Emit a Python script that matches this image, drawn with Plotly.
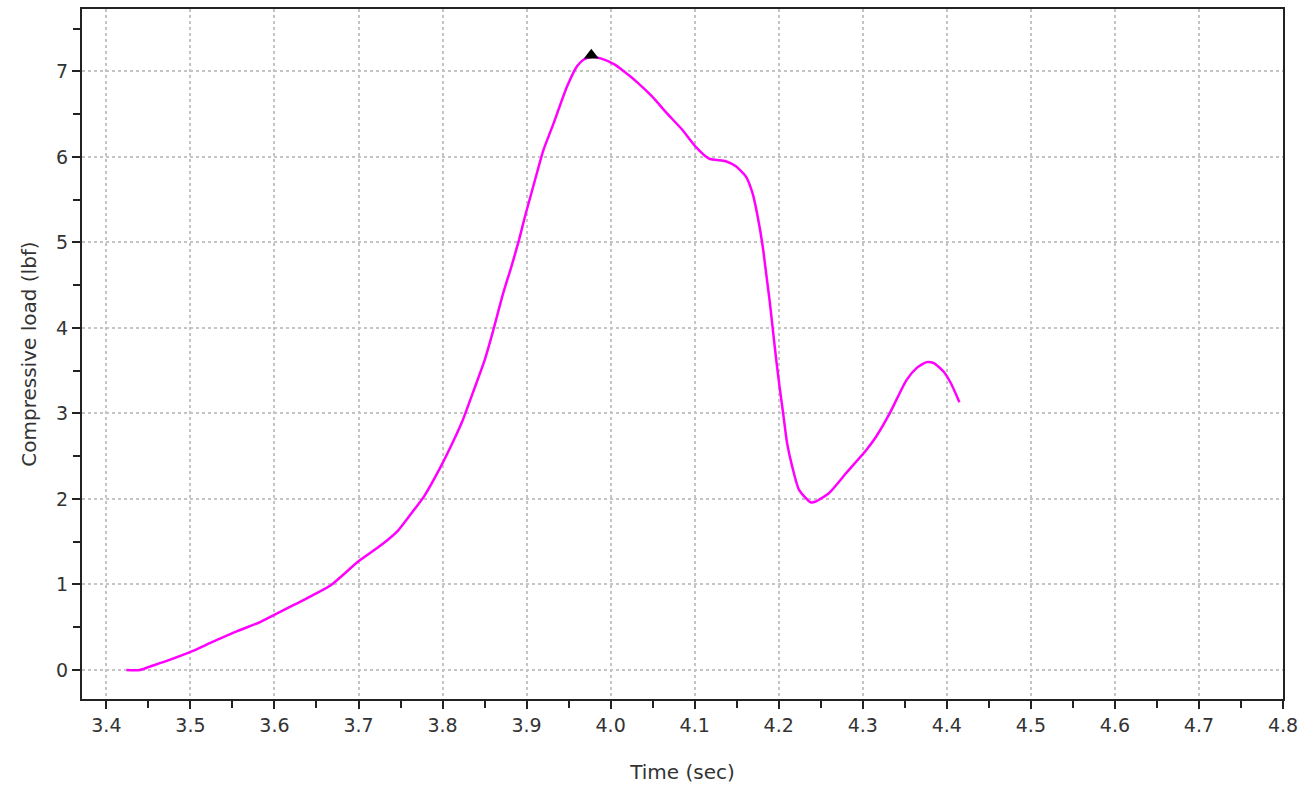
import plotly.graph_objects as go

time_s = [3.424, 3.44, 3.452, 3.476, 3.50, 3.527, 3.555, 3.583, 3.591, 3.623, 3.643, 3.667,
          3.70, 3.727, 3.747, 3.762, 3.778, 3.798, 3.814, 3.824, 3.836, 3.850, 3.860, 3.872,
          3.882, 3.891, 3.898, 3.910, 3.920, 3.932, 3.948, 3.960, 3.968, 3.977, 3.989, 4.005,
          4.021, 4.033, 4.049, 4.067, 4.085, 4.101, 4.117, 4.137, 4.149, 4.161, 4.169, 4.175,
          4.181, 4.185, 4.189, 4.193, 4.197, 4.201, 4.205, 4.210, 4.216, 4.224, 4.238, 4.244,
          4.260, 4.280, 4.304, 4.316, 4.332, 4.352, 4.364, 4.376, 4.384, 4.396, 4.405, 4.415]
load_lbf = [0.0, 0.0, 0.04, 0.12, 0.21, 0.33, 0.45, 0.56, 0.60, 0.76, 0.86, 0.99,
            1.27, 1.46, 1.63, 1.82, 2.03, 2.38, 2.70, 2.92, 3.24, 3.62, 3.96, 4.40,
            4.72, 5.03, 5.30, 5.73, 6.08, 6.39, 6.82, 7.06, 7.14, 7.17, 7.15, 7.08,
            6.96, 6.86, 6.71, 6.51, 6.32, 6.12, 5.98, 5.95, 5.89, 5.77, 5.57, 5.30,
            4.95, 4.64, 4.33, 3.98, 3.63, 3.31, 3.02, 2.65, 2.38, 2.11, 1.96, 1.97,
            2.07, 2.30, 2.57, 2.73, 3.00, 3.39, 3.53, 3.60, 3.59, 3.49, 3.35, 3.13]
peak_time = [3.977]
peak_load = [7.19]

x_ticks = [3.4, 3.5, 3.6, 3.7, 3.8, 3.9, 4.0, 4.1, 4.2, 4.3, 4.4, 4.5, 4.6, 4.7, 4.8]
x_tick_labels = ["3.4", "3.5", "3.6", "3.7", "3.8", "3.9", "4.0", "4.1", "4.2", "4.3",
                 "4.4", "4.5", "4.6", "4.7", "4.8"]
y_ticks = [0, 1, 2, 3, 4, 5, 6, 7]

fig = go.Figure()
fig.add_trace(go.Scatter(x=time_s, y=load_lbf, mode="lines",
                         line=dict(color="#ff00ff", width=2.5, shape="spline", smoothing=0.6),
                         hoverinfo="x+y", showlegend=False))
fig.add_trace(go.Scatter(x=peak_time, y=peak_load, mode="markers",
                         marker=dict(symbol="triangle-up", size=13, color="black"),
                         showlegend=False))

font_family = "DejaVu Sans, Verdana, sans-serif"
fig.update_layout(
    width=1301, height=789,
    margin=dict(l=82, r=18, t=9, b=90, autoexpand=False),
    plot_bgcolor="white", paper_bgcolor="white",
    font=dict(family=font_family, color="#333333", size=19),
    xaxis=dict(
        range=[3.371, 4.8], tickvals=x_ticks, ticktext=x_tick_labels,
        showline=True, linecolor="#222222", linewidth=2, mirror=True,
        ticks="outside", ticklen=8, tickwidth=2, tickcolor="#222222",
        showgrid=True, gridcolor="#c4c4c4", griddash="dot", gridwidth=1.5,
        zeroline=False, automargin=False,
        minor=dict(dtick=0.05, tick0=3.4, ticks="outside", ticklen=7, tickwidth=2,
                   tickcolor="#222222", showgrid=False),
        title=dict(text="Time (sec)", font=dict(size=20, family=font_family, color="#333333"), standoff=30),
        tickfont=dict(size=19, color="#333333"),
    ),
    yaxis=dict(
        range=[-0.34, 7.73], tickvals=y_ticks,
        showline=True, linecolor="#222222", linewidth=2, mirror=True,
        ticks="outside", ticklen=8, tickwidth=2, tickcolor="#222222",
        showgrid=True, gridcolor="#c4c4c4", griddash="dot", gridwidth=1.5,
        zeroline=False, automargin=False,
        minor=dict(dtick=0.5, tick0=0, ticks="outside", ticklen=7, tickwidth=2,
                   tickcolor="#222222", showgrid=False),
        title=dict(text="Compressive load (lbf)", font=dict(size=20, family=font_family, color="#333333"), standoff=14),
        tickfont=dict(size=19, color="#333333"),
    ),
)

fig.write_html("out.html", config={"displayModeBar": False},
               post_script="document.body.style.margin='0';document.body.style.overflow='hidden';")
